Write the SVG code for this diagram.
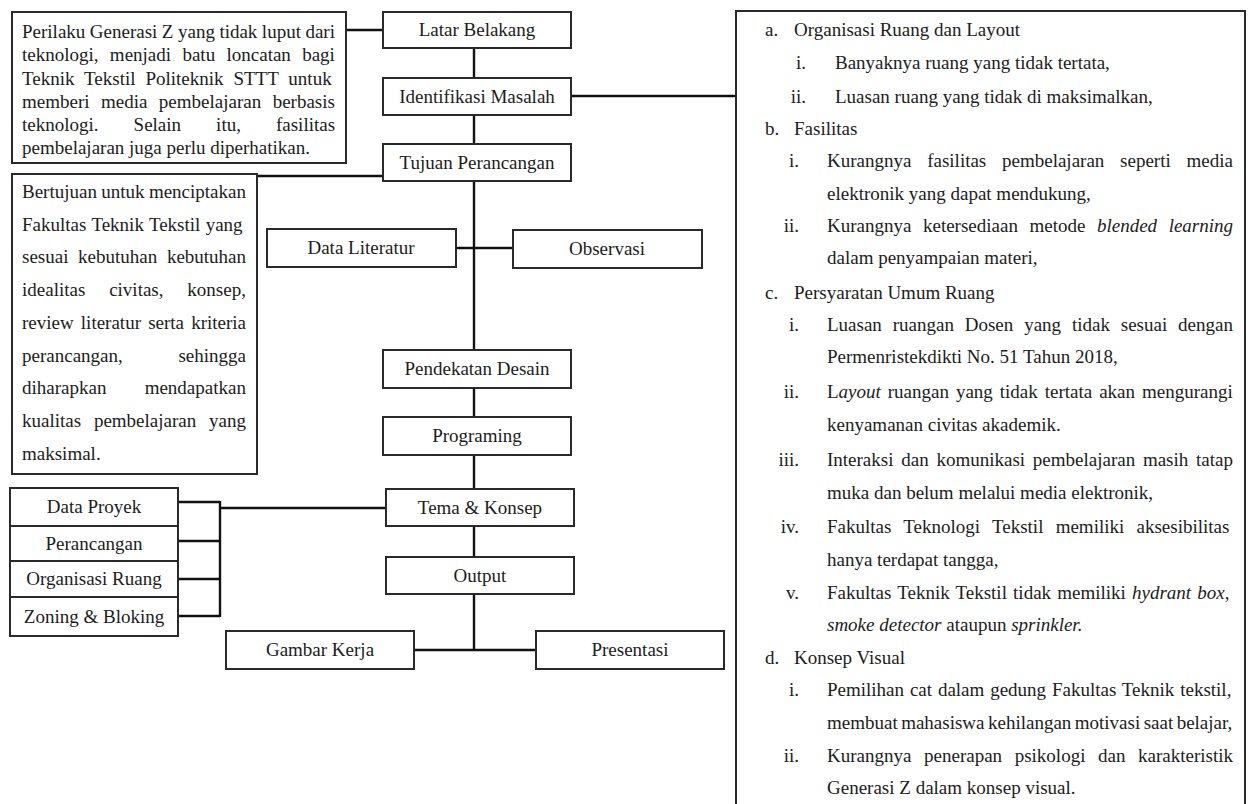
<svg xmlns="http://www.w3.org/2000/svg" width="1249" height="804" viewBox="0 0 1249 804">
<style>
.box{fill:#fff;stroke:#2a2a2a;stroke-width:2}
.t{font-family:"Liberation Serif","Times New Roman",serif;font-size:19px;fill:#1c1c1c}
.c{text-anchor:middle}
.e{text-anchor:end}
.i{font-style:italic}
#connectors path{stroke:#111;stroke-width:2.4;fill:none}
</style>
<rect width="1249" height="804" fill="#fff"/>

<g id="connectors">
<path d="M346,30 H383"/>
<path d="M474,48 V78 M474,115 V144 M474,181 V350 M474,388 V417 M474,455 V489 M474,526 V557 M474,594 V650"/>
<path d="M571,96 H736"/>
<path d="M257,176 H383"/>
<path d="M456,248 H513"/>
<path d="M414,650 H536"/>
<path d="M178,502 H220 M178,541 H220 M178,579 H220 M178,616 H220 M220,501 V617 M220,508 H386"/>
</g>

<g id="latar-belakang"><rect class="box" x="383" y="12" width="188" height="36"/><text class="t c" x="477" y="36">Latar Belakang</text></g>
<g id="identifikasi-masalah"><rect class="box" x="383" y="78" width="188" height="37"/><text class="t c" x="477" y="103">Identifikasi Masalah</text></g>
<g id="tujuan-perancangan"><rect class="box" x="383" y="144" width="188" height="37"/><text class="t c" x="477" y="169">Tujuan Perancangan</text></g>
<g id="data-literatur"><rect class="box" x="267" y="229" width="189" height="38"/><text class="t c" x="361" y="254">Data Literatur</text></g>
<g id="observasi"><rect class="box" x="513" y="230" width="189" height="38"/><text class="t c" x="607" y="255">Observasi</text></g>
<g id="pendekatan-desain"><rect class="box" x="383" y="350" width="188" height="38"/><text class="t c" x="477" y="375">Pendekatan Desain</text></g>
<g id="programing"><rect class="box" x="383" y="417" width="188" height="38"/><text class="t c" x="477" y="442">Programing</text></g>
<g id="tema-konsep"><rect class="box" x="386" y="489" width="188" height="37"/><text class="t c" x="480" y="514">Tema &amp; Konsep</text></g>
<g id="output"><rect class="box" x="386" y="557" width="188" height="37"/><text class="t c" x="480" y="582">Output</text></g>
<g id="gambar-kerja"><rect class="box" x="226" y="631" width="188" height="38"/><text class="t c" x="320" y="656">Gambar Kerja</text></g>
<g id="presentasi"><rect class="box" x="536" y="631" width="188" height="38"/><text class="t c" x="630" y="656">Presentasi</text></g>

<g id="data-proyek"><rect class="box" x="10" y="488" width="168" height="38"/><text class="t c" x="94" y="513">Data Proyek</text></g>
<g id="perancangan"><rect class="box" x="10" y="526" width="168" height="35"/><text class="t c" x="94" y="550">Perancangan</text></g>
<g id="organisasi-ruang"><rect class="box" x="10" y="561" width="168" height="36"/><text class="t c" x="94" y="585">Organisasi Ruang</text></g>
<g id="zoning-bloking"><rect class="box" x="10" y="597" width="168" height="39"/><text class="t c" x="94" y="623">Zoning &amp; Bloking</text></g>

<g id="latar-text">
<rect class="box" x="12" y="12" width="334" height="151"/>
<text class="t" x="22" y="38" style="word-spacing:-0.25px">Perilaku Generasi Z yang tidak luput dari</text>
<text class="t" x="22" y="61" style="word-spacing:6.6px">teknologi, menjadi batu loncatan bagi</text>
<text class="t" x="22" y="85" style="word-spacing:5.15px">Teknik Tekstil Politeknik STTT untuk</text>
<text class="t" x="22" y="108" style="word-spacing:6.7px">memberi media pembelajaran berbasis</text>
<text class="t" x="22" y="131" style="word-spacing:30.3px">teknologi. Selain itu, fasilitas</text>
<text class="t" x="22" y="154">pembelajaran juga perlu diperhatikan.</text>
</g>

<g id="tujuan-text">
<rect class="box" x="12" y="174" width="245" height="300"/>
<text class="t" x="22" y="198" style="word-spacing:-0.4px">Bertujuan untuk menciptakan</text>
<text class="t" x="22" y="231" style="word-spacing:0.6px">Fakultas Teknik Tekstil yang</text>
<text class="t" x="22" y="263" style="word-spacing:4.9px">sesuai kebutuhan kebutuhan</text>
<text class="t" x="22" y="296" style="word-spacing:19.1px">idealitas civitas, konsep,</text>
<text class="t" x="22" y="329" style="word-spacing:2.4px">review literatur serta kriteria</text>
<text class="t" x="22" y="362" style="word-spacing:50.9px">perancangan, sehingga</text>
<text class="t" x="22" y="394" style="word-spacing:33.5px">diharapkan mendapatkan</text>
<text class="t" x="22" y="427" style="word-spacing:8.05px">kualitas pembelajaran yang</text>
<text class="t" x="22" y="460">maksimal.</text>
</g>

<g id="masalah-text">
<path class="box" d="M736,812 V11 H1245 V812"/>
<text class="t" x="765" y="36">a.</text><text class="t" x="794" y="36">Organisasi Ruang dan Layout</text>
<text class="t e" x="806" y="69">i.</text><text class="t" x="835" y="69">Banyaknya ruang yang tidak tertata,</text>
<text class="t e" x="806" y="103">ii.</text><text class="t" x="835" y="103">Luasan ruang yang tidak di maksimalkan,</text>
<text class="t" x="765" y="135">b.</text><text class="t" x="794" y="135">Fasilitas</text>
<text class="t e" x="799" y="167">i.</text><text class="t" x="827" y="167" style="word-spacing:11px">Kurangnya fasilitas pembelajaran seperti media</text>
<text class="t" x="827" y="200">elektronik yang dapat mendukung,</text>
<text class="t e" x="799" y="232">ii.</text><text class="t" x="827" y="232" style="word-spacing:6.8px">Kurangnya ketersediaan metode <tspan class="i">blended learning</tspan></text>
<text class="t" x="827" y="264">dalam penyampaian materi,</text>
<text class="t" x="765" y="299">c.</text><text class="t" x="794" y="299">Persyaratan Umum Ruang</text>
<text class="t e" x="799" y="331">i.</text><text class="t" x="827" y="331" style="word-spacing:6.1px">Luasan ruangan Dosen yang tidak sesuai dengan</text>
<text class="t" x="827" y="363">Permenristekdikti No. 51 Tahun 2018,</text>
<text class="t e" x="799" y="398">ii.</text><text class="t" x="827" y="398" style="word-spacing:2.2px">L<tspan class="i">ayout</tspan> ruangan yang tidak tertata akan mengurangi</text>
<text class="t" x="827" y="431">kenyamanan civitas akademik.</text>
<text class="t e" x="799" y="466">iii.</text><text class="t" x="827" y="466" style="word-spacing:3px">Interaksi dan komunikasi pembelajaran masih tatap</text>
<text class="t" x="827" y="499">muka dan belum melalui media elektronik,</text>
<text class="t e" x="799" y="533">iv.</text><text class="t" x="827" y="533" style="word-spacing:7.5px">Fakultas Teknologi Tekstil memiliki aksesibilitas</text>
<text class="t" x="827" y="566">hanya terdapat tangga,</text>
<text class="t e" x="799" y="599">v.</text><text class="t" x="827" y="599" style="word-spacing:1.4px">Fakultas Teknik Tekstil tidak memiliki <tspan class="i">hydrant box</tspan>,</text>
<text class="t" x="827" y="631"><tspan class="i">smoke detector</tspan> ataupun <tspan class="i">sprinkler.</tspan></text>
<text class="t" x="765" y="664">d.</text><text class="t" x="794" y="664">Konsep Visual</text>
<text class="t e" x="799" y="696">i.</text><text class="t" x="827" y="696" style="word-spacing:1.1px">Pemilihan cat dalam gedung Fakultas Teknik tekstil,</text>
<text class="t" x="827" y="729" style="word-spacing:-1.3px">membuat mahasiswa kehilangan motivasi saat belajar,</text>
<text class="t e" x="799" y="762">ii.</text><text class="t" x="827" y="762" style="word-spacing:7.85px">Kurangnya penerapan psikologi dan karakteristik</text>
<text class="t" x="827" y="794">Generasi Z dalam konsep visual.</text>
</g>
</svg>
